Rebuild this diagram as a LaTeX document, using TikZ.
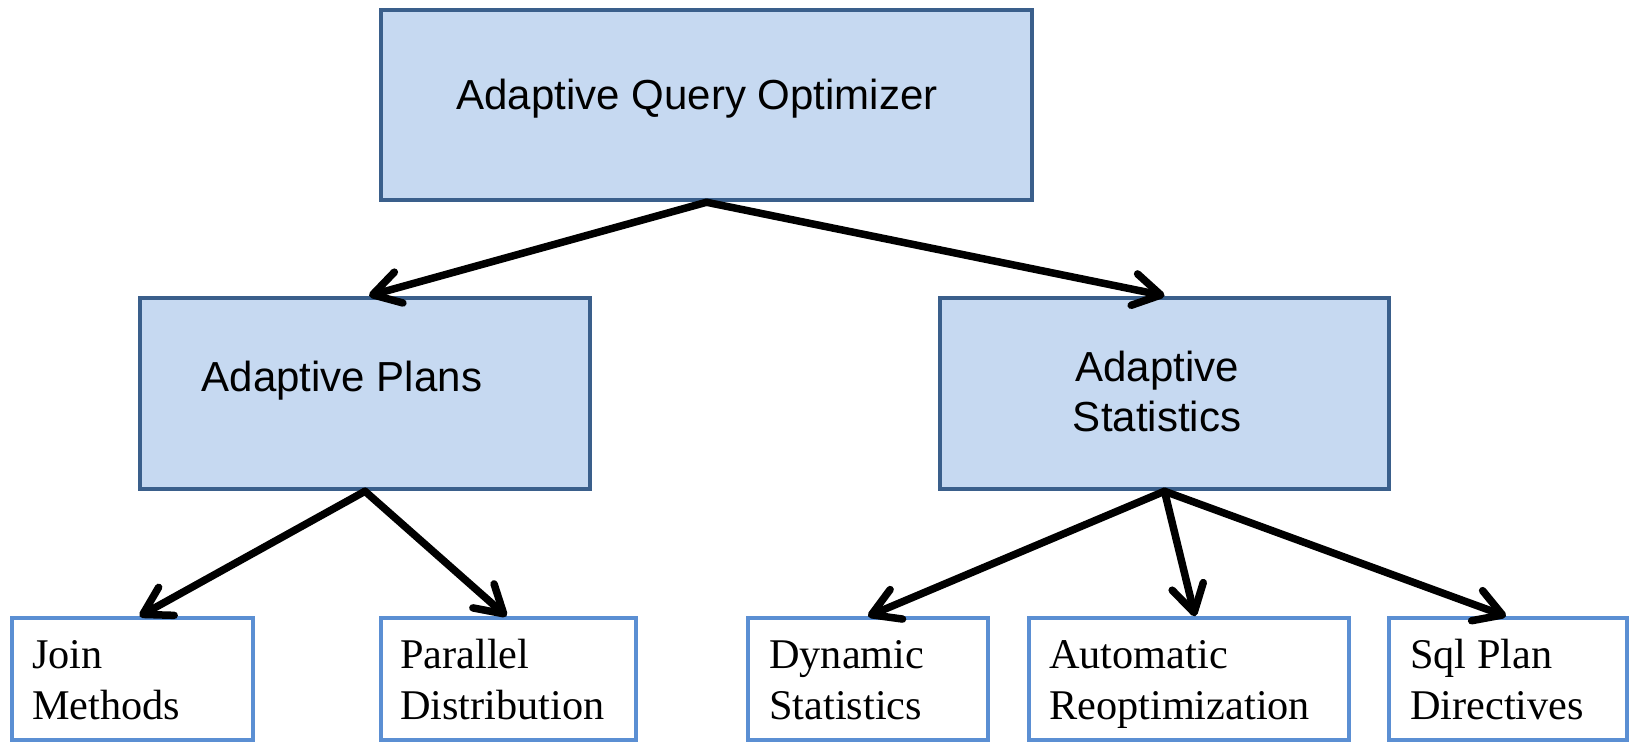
\documentclass[tikz,border=0pt]{standalone}
\usepackage{fontspec}
\setmainfont{Liberation Serif}
\newfontfamily\arialf{Liberation Sans}
\usetikzlibrary{arrows.meta}
\definecolor{boxfill}{HTML}{C6D9F1}
\definecolor{boxdark}{HTML}{3A5F8B}
\definecolor{boxlight}{HTML}{5B8FD3}
\begin{document}
\begin{tikzpicture}[x=1pt,y=-1pt,
 bigbox/.style={draw=boxdark, fill=boxfill, line width=4.5pt, inner sep=0pt},
 smallbox/.style={draw=boxlight, line width=3.5pt, inner sep=0pt, minimum height=122pt},
 sanslabel/.style={font=\arialf\fontsize{42}{50}\selectfont, align=center, inner sep=0pt},
 seriflabel/.style={font=\fontsize{42.3}{51}\selectfont, align=left, anchor=base west, inner sep=0pt},
 arr/.style={line width=7.5pt, line cap=round, -{Straight Barb[length=27pt,width=32pt,round]}}]
\fill[white] (0,0) rectangle (1629,742);
\useasboundingbox (0,0) rectangle (1629,742);
% upper boxes
\node[bigbox, minimum width=651pt, minimum height=190pt] (aqo) at (706.5,105) {};
\node[bigbox, minimum width=450pt, minimum height=191pt] (plans) at (365,393.5) {};
\node[bigbox, minimum width=449pt, minimum height=191pt] (stats) at (1164.5,393.5) {};
\node[sanslabel] (taqo) at (697,99) {Adaptive Query Optimizer};
\node[sanslabel] (tplans) at (342,381) {Adaptive Plans};
\node[sanslabel] (tstats) at (1157,391) {Adaptive\\Statistics};
% lower boxes
\node[smallbox, minimum width=241pt] (join) at (132.5,679) {};
\node[smallbox, minimum width=255pt] (par) at (508.5,679) {};
\node[smallbox, minimum width=240pt] (dyn) at (868,679) {};
\node[smallbox, minimum width=320pt] (auto) at (1189,679) {};
\node[smallbox, minimum width=238pt] (sql) at (1508,679) {};
\node[seriflabel] (tjoin) at (32,719) {Join\\Methods};
\node[seriflabel] (tpar) at (400,719) {Parallel\\Distribution};
\node[seriflabel] (tdyn) at (769,719) {Dynamic\\Statistics};
\node[seriflabel] (tauto) at (1049,719) {Automatic\\Reoptimization};
\node[seriflabel] (tsql) at (1410,719) {Sql Plan\\Directives};
% arrows
\draw[arr] (aqo.south) -- ([xshift=4pt]plans.north);
\draw[arr] (aqo.south) -- (stats.north);
\draw[arr] (plans.south) -- ([xshift=7pt]join.north);
\draw[arr] (plans.south) -- ([xshift=-2pt]par.north);
\draw[arr] (stats.south) -- (dyn.north);
\draw[arr] (stats.south) -- ([xshift=6pt]auto.north);
\draw[arr] (stats.south) -- ([xshift=-2pt]sql.north);
\end{tikzpicture}
\end{document}
